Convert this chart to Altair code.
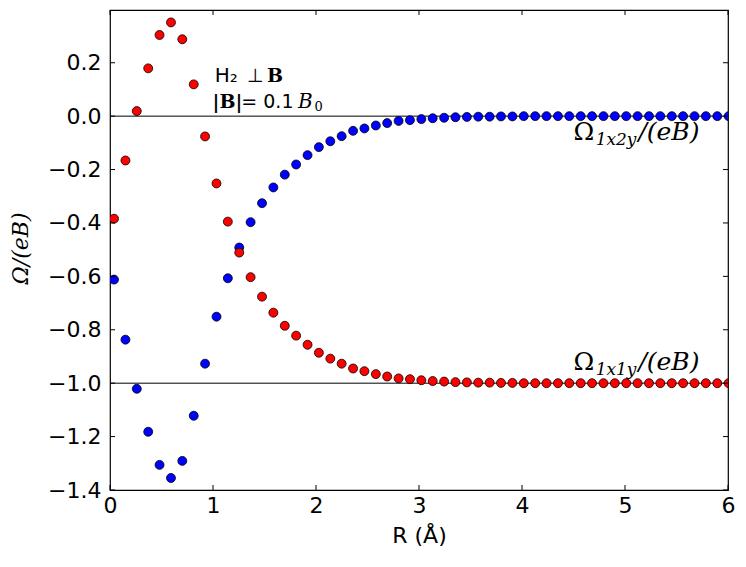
import altair as alt
import pandas as pd

# ---------------- data ----------------
R = [0.039, 0.150, 0.260, 0.371, 0.481, 0.592, 0.702, 0.813, 0.923, 1.034,
     1.144, 1.255, 1.365, 1.476, 1.586, 1.697, 1.807, 1.918, 2.028, 2.139,
     2.249, 2.360, 2.470, 2.581, 2.691, 2.802, 2.912, 3.023, 3.133, 3.244,
     3.354, 3.465, 3.575, 3.686, 3.796, 3.907, 4.017, 4.128, 4.238, 4.349,
     4.459, 4.570, 4.680, 4.791, 4.901, 5.012, 5.122, 5.233, 5.343, 5.454,
     5.564, 5.675, 5.785, 5.896, 6.006]

omega_1x1y = [-0.384, -0.166, 0.019, 0.179, 0.304, 0.351, 0.288, 0.119, -0.076, -0.252,
              -0.395, -0.511, -0.603, -0.676, -0.736, -0.785, -0.822, -0.856, -0.886, -0.908,
              -0.927, -0.945, -0.955, -0.966, -0.975, -0.982, -0.985, -0.989, -0.992, -0.994,
              -0.996, -0.997, -0.998, -0.998, -0.999, -0.999, -1.0, -1.0, -1.0, -1.0,
              -1.0, -1.0, -1.0, -1.0, -1.0, -1.0, -1.0, -1.0, -1.0, -1.0,
              -1.0, -1.0, -1.0, -1.0, -1.0]

omega_1x2y = [-0.612, -0.837, -1.021, -1.182, -1.306, -1.355, -1.291, -1.122, -0.927, -0.751,
              -0.607, -0.492, -0.397, -0.326, -0.267, -0.219, -0.181, -0.146, -0.116, -0.094,
              -0.075, -0.055, -0.046, -0.035, -0.026, -0.018, -0.015, -0.011, -0.008, -0.006,
              -0.004, -0.003, -0.002, -0.002, -0.001, -0.001, 0.0, 0.0, 0.0, 0.0,
              0.0, 0.0, 0.0, 0.0, 0.0, 0.0, 0.0, 0.0, 0.0, 0.0,
              0.0, 0.0, 0.0, 0.0, 0.0]

ref_lines = [0.0, -1.0]
x_ticks = [0, 1, 2, 3, 4, 5, 6]
y_ticks = [-1.4, -1.2, -1.0, -0.8, -0.6, -0.4, -0.2, 0.0, 0.2]

# annotation pieces: text, x, y (data units), font, size, style, weight
annotations = [
    ("H\u2082", 1.016, 0.129, "DejaVu Sans", 20, "normal", "normal"),
    ("\u22a5", 1.330, 0.129, "DejaVu Sans", 19, "normal", "normal"),
    ("B", 1.525, 0.129, "DejaVu Serif", 19, "normal", "bold"),
    ("|B|", 0.995, 0.029, "DejaVu Serif", 19, "normal", "bold"),
    ("= 0.1", 1.275, 0.029, "DejaVu Sans", 19, "normal", "normal"),
    ("B", 1.825, 0.029, "DejaVu Serif", 20, "italic", "normal"),
    ("0", 1.985, 0.019, "DejaVu Serif", 13, "normal", "normal"),
    # Omega_1x2y/(eB)
    ("\u03a9", 4.500, -0.090, "DejaVu Serif", 25, "normal", "normal"),
    ("1x2y", 4.715, -0.108, "DejaVu Serif", 17, "italic", "normal"),
    ("/(eB)", 5.130, -0.090, "DejaVu Serif", 25, "italic", "normal"),
    # Omega_1x1y/(eB)
    ("\u03a9", 4.500, -0.951, "DejaVu Serif", 25, "normal", "normal"),
    ("1x1y", 4.715, -0.969, "DejaVu Serif", 17, "italic", "normal"),
    ("/(eB)", 5.130, -0.951, "DejaVu Serif", 25, "italic", "normal"),
]

# ---------------- chart ----------------
W, H = 618, 480
xscale = alt.Scale(domain=[0, 6], nice=False, zero=False)
yscale = alt.Scale(domain=[-1.4, 0.3975], nice=False, zero=False)

xaxis = alt.Axis(title="R (\u00c5)", values=x_ticks, format="d", ticks=False, tickSize=0,
                 domain=False, grid=False, labelFont="DejaVu Sans", labelFontSize=22,
                 labelColor="black", labelPadding=5, labelFlush=False, labelOverlap=False,
                 titleFont="DejaVu Sans", titleFontSize=22, titleFontWeight="normal",
                 titleColor="black", titlePadding=9)
yaxis = alt.Axis(title="\u03a9/(eB)", values=y_ticks, format=".1f", ticks=False, tickSize=0,
                 domain=False, grid=False, labelFont="DejaVu Sans", labelFontSize=22,
                 labelColor="black", labelPadding=9, labelFlush=False, labelOverlap=False,
                 titleFont="DejaVu Serif", titleFontStyle="italic", titleFontSize=22,
                 titleFontWeight="normal", titleColor="black", titleAngle=270,
                 titleX=-90, titleY=238, titleAlign="center", titleBaseline="middle")

xenc = alt.X("x:Q", scale=xscale, axis=xaxis)
yenc = alt.Y("y:Q", scale=yscale, axis=yaxis)

df_blue = pd.DataFrame({"x": R, "y": omega_1x2y})
df_red = pd.DataFrame({"x": R, "y": omega_1x1y})
df_lines = pd.DataFrame({"y": ref_lines})
df_xt = pd.DataFrame({"x": x_ticks})
df_yt = pd.DataFrame({"y": y_ticks})

lines = alt.Chart(df_lines).mark_rule(color="black", strokeWidth=1).encode(y=yenc)

blue = alt.Chart(df_blue).mark_circle(size=80, color="#0000ff", opacity=1, stroke="black",
                                      strokeWidth=0.8, clip=True).encode(x=xenc, y=yenc)
red = alt.Chart(df_red).mark_circle(size=80, color="#ff0000", opacity=1, stroke="black",
                                    strokeWidth=0.8, clip=True).encode(x=xenc, y=yenc)

tick_bottom = alt.Chart(df_xt).mark_rule(color="black", strokeWidth=1).encode(
    x=xenc, y=alt.value(H), y2=alt.value(H - 5))
tick_top = alt.Chart(df_xt).mark_rule(color="black", strokeWidth=1).encode(
    x=xenc, y=alt.value(0), y2=alt.value(5))
tick_left = alt.Chart(df_yt).mark_rule(color="black", strokeWidth=1).encode(
    y=yenc, x=alt.value(0), x2=alt.value(5))
tick_right = alt.Chart(df_yt).mark_rule(color="black", strokeWidth=1).encode(
    y=yenc, x=alt.value(W), x2=alt.value(W - 5))

text_layers = []
for t, x, y, font, size, style, weight in annotations:
    d = pd.DataFrame({"x": [x], "y": [y], "t": [t]})
    text_layers.append(
        alt.Chart(d).mark_text(align="left", baseline="alphabetic", font=font, fontSize=size,
                               fontStyle=style, fontWeight=weight, color="black")
        .encode(x=xenc, y=yenc, text="t:N")
    )

chart = alt.layer(lines, blue, red, tick_bottom, tick_top, tick_left, tick_right,
                  *text_layers).properties(
    width=W, height=H,
    padding={"left": 102, "top": 2, "right": 10, "bottom": 66},
    autosize=alt.AutoSizeParams(type="none"),
    background="white",
).configure_view(stroke="black", strokeWidth=1.2)

chart.save("out.html", embed_options={"renderer": "svg", "actions": False})
